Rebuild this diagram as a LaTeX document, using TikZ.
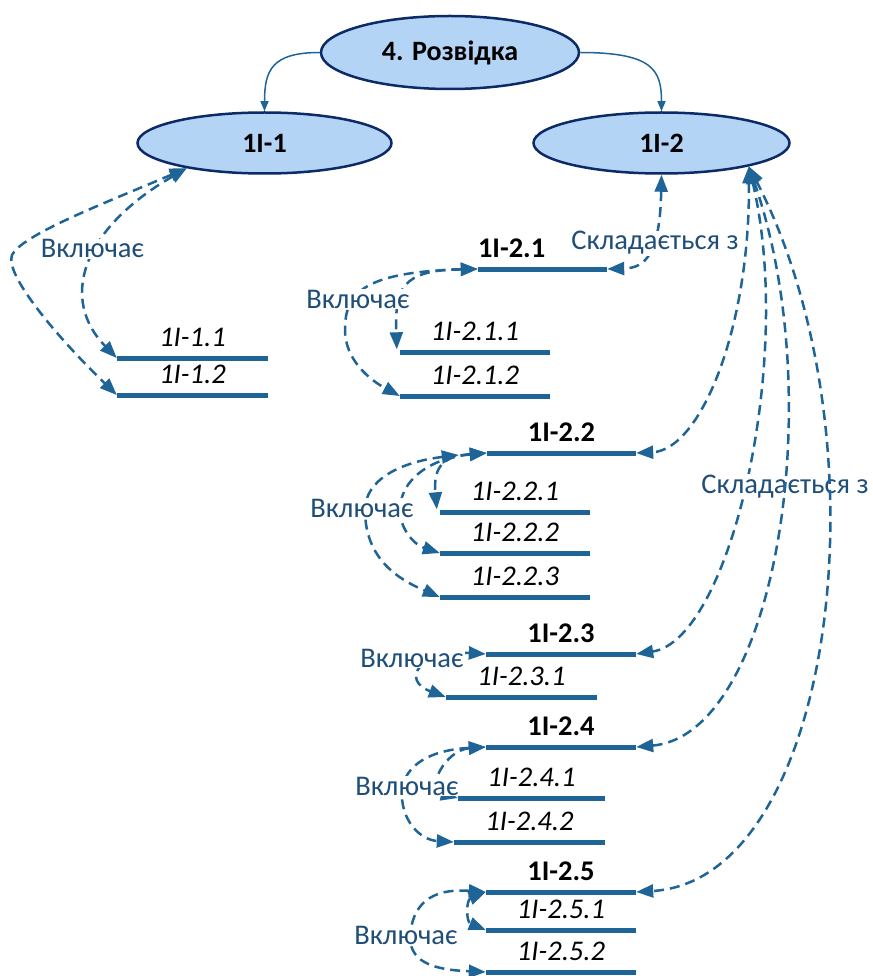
\documentclass[tikz,border=0pt]{standalone}
\usepackage{fontspec}
\setmainfont{Carlito}
\usetikzlibrary{shapes.geometric,arrows.meta}
\definecolor{bclr}{HTML}{1F6496}
\definecolor{lclr}{HTML}{1F4E79}
\definecolor{efill}{HTML}{B4D4F6}
\definecolor{edraw}{HTML}{0C2B66}
\begin{document}
\begin{tikzpicture}[x=1pt,y=-1pt,
  ell/.style={ellipse, draw=edraw, line width=2.5pt, fill=efill, inner sep=0pt, font=\bfseries\fontsize{28}{32}\selectfont},
  bar/.style={fill=bclr, inner sep=0pt, minimum height=5pt},
  barlbl/.style={inner sep=0pt, anchor=base, font=\fontsize{28.5}{32}\selectfont},
  lbl/.style={text=lclr, fill=white, inner sep=1pt, anchor=base, font=\fontsize{28.5}{32}\selectfont},
  solidarr/.style={draw=bclr, line width=1.5pt, -{Triangle[length=10pt,width=8pt]}},
  conn/.style={draw=bclr, line width=2.5pt, dash pattern=on 10pt off 6pt,
    {Triangle[length=17pt,width=13pt]}-{Triangle[length=17pt,width=13pt]}}]
\useasboundingbox (0,0) rectangle (872,976);

% ellipses
\node[ell, minimum width=258pt, minimum height=73pt] (top) at (450,52.5) {4. Розвідка};
\node[ell, minimum width=254pt, minimum height=61pt] (e1) at (264.5,143) {1I-1};
\node[ell, minimum width=256pt, minimum height=61pt] (e2) at (661.5,143) {1I-2};

\draw[solidarr] (top.west) .. controls (272,52.5) and (264.5,70) .. (e1.north);
\draw[solidarr] (top.east) .. controls (653,52.5) and (661.5,70) .. (e2.north);

% bars
\node[bar, minimum width=151pt] (n11) at (192.5,358) {};
\node[bar, minimum width=151pt] (n12) at (192.5,395) {};
\node[bar, minimum width=129pt] (n21) at (542.5,269) {};
\node[bar, minimum width=150pt] (n211) at (475,352) {};
\node[bar, minimum width=150pt] (n212) at (475,396) {};
\node[bar, minimum width=149pt] (n22) at (561.5,453) {};
\node[bar, minimum width=150pt] (n221) at (515,512) {};
\node[bar, minimum width=150pt] (n222) at (515,553) {};
\node[bar, minimum width=150pt] (n223) at (515,597) {};
\node[bar, minimum width=150pt] (n23) at (561,654) {};
\node[bar, minimum width=151pt] (n231) at (521.5,697) {};
\node[bar, minimum width=150pt] (n24) at (561,747) {};
\node[bar, minimum width=147pt] (n241) at (531.5,798) {};
\node[bar, minimum width=151pt] (n242) at (529.5,842) {};
\node[bar, minimum width=150pt] (n25) at (561,892) {};
\node[bar, minimum width=150pt] (n251) at (561,930) {};
\node[bar, minimum width=150pt] (n252) at (561,972) {};

% bar labels
\node[barlbl] (t11) at ([yshift=9pt]n11.north) {\itshape 1I-1.1};
\node[barlbl] (t12) at ([yshift=9pt]n12.north) {\itshape 1I-1.2};
\node[barlbl, anchor=base west] (t21) at ([yshift=9pt]n21.north west) {\bfseries 1I-2.1};
\node[barlbl] (t211) at ([yshift=9pt]n211.north) {\itshape 1I-2.1.1};
\node[barlbl] (t212) at ([yshift=9pt]n212.north) {\itshape 1I-2.1.2};
\node[barlbl] (t22) at ([yshift=9pt]n22.north) {\bfseries 1I-2.2};
\node[barlbl] (t221) at ([yshift=9pt]n221.north) {\itshape 1I-2.2.1};
\node[barlbl] (t222) at ([yshift=9pt]n222.north) {\itshape 1I-2.2.2};
\node[barlbl] (t223) at ([yshift=9pt]n223.north) {\itshape 1I-2.2.3};
\node[barlbl] (t23) at ([yshift=9pt]n23.north) {\bfseries 1I-2.3};
\node[barlbl] (t231) at ([yshift=9pt]n231.north) {\itshape 1I-2.3.1};
\node[barlbl] (t24) at ([yshift=9pt]n24.north) {\bfseries 1I-2.4};
\node[barlbl] (t241) at ([yshift=9pt]n241.north) {\itshape 1I-2.4.1};
\node[barlbl] (t242) at ([yshift=9pt]n242.north) {\itshape 1I-2.4.2};
\node[barlbl] (t25) at ([yshift=9pt]n25.north) {\bfseries 1I-2.5};
\node[barlbl] (t251) at ([yshift=9pt]n251.north) {\itshape 1I-2.5.1};
\node[barlbl] (t252) at ([yshift=9pt]n252.north) {\itshape 1I-2.5.2};

% 1I-1 connectors
\draw[conn] (e1.-162) .. controls (80,230) and (60,300) .. (n11.west);
\draw[conn] (e1.-162) .. controls (100,205) and (22,235) .. (12,255) .. controls (4,275) and (60,340) .. (n12.west);
\node[lbl] (v1) at (92.5,258) {Включає};

% 1I-2.1
\draw[conn] (n21.west) .. controls (400,270) and (395,290) .. ([xshift=-3pt]n211.north west);
\draw[conn] (n21.west) .. controls (360,272) and (345,295) .. (345,330) .. controls (345,360) and (370,380) .. (n212.west);
\node[lbl] (v2) at (358,308) {Включає};
\draw[conn] (e2.south) .. controls (660,255) and (645,268) .. (n21.east);
\node[lbl] (s1) at (655,250) {Складається з};

% 1I-2.2
\draw[conn] (n22.west) .. controls (445,456) and (433,465) .. ([xshift=-3pt]n221.north west);
\draw[conn] (n22.west) .. controls (430,458) and (400,480) .. (400,510) .. controls (400,530) and (415,545) .. (n222.west);
\draw[conn] ([xshift=-28pt,yshift=-2pt]n22.west) .. controls (400,462) and (365,480) .. (365,510) .. controls (365,560) and (400,580) .. (n223.west);
\node[lbl] (v3) at (362,517) {Включає};

% 1I-2.3
\draw[conn] (n23.west) .. controls (420,650) and (400,680) .. (n231.west);
\node[lbl] (v4) at (412,667) {Включає};

% 1I-2.4
\draw[conn] (n24.west) .. controls (445,750) and (425,790) .. (n241.west);
\draw[conn] (n24.west) .. controls (430,750) and (405,765) .. (402,790) .. controls (400,820) and (420,840) .. (n242.west);
\node[lbl] (v5) at (407,795) {Включає};

% 1I-2.5
\draw[conn] (n25.west) .. controls (466,900) and (466,922) .. (n251.west);
\draw[conn] (n25.west) .. controls (430,888) and (412,905) .. (410,937) .. controls (410,965) and (440,970) .. (n252.west);
\node[lbl] (v6) at (406,944) {Включає};

% Складається з (right)
\draw[conn] (e2.-15) .. controls (750,330) and (700,450) .. (n22.east);
\draw[conn] (e2.-15) .. controls (795,360) and (730,640) .. (n23.east);
\node[lbl] (s2) at (785,493) {Складається з};
\draw[conn] (e2.-15) .. controls (830,400) and (775,735) .. (n24.east);
\draw[conn] (e2.-15) .. controls (890,440) and (835,880) .. (n25.east);
\end{tikzpicture}
\end{document}
